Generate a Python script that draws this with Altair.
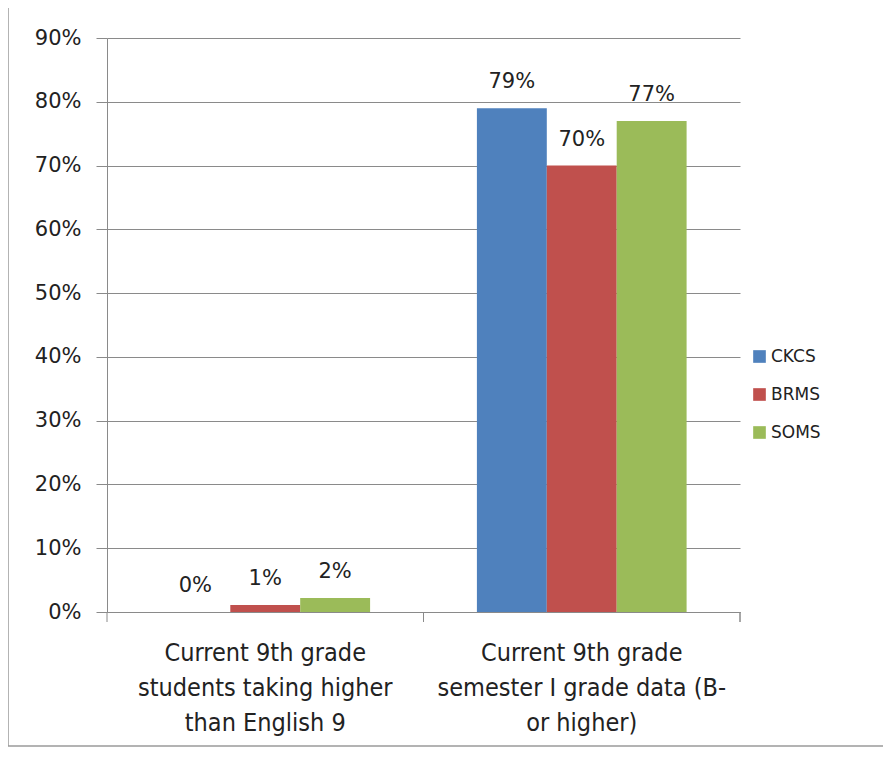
import altair as alt
import pandas as pd

# ---- data ----
categories = [
    "Current 9th grade|students taking higher|than English 9",
    "Current 9th grade|semester I grade data  (B-|or higher)",
]
schools = ["CKCS", "BRMS", "SOMS"]
values_students_higher = [0.0, 0.011, 0.022]
values_semester_grades = [0.79, 0.70, 0.77]
colors = ["#4F81BD", "#C0504D", "#9BBB59"]
y_ticks = [0.0, 0.1, 0.2, 0.3, 0.4, 0.5, 0.6, 0.7, 0.8, 0.9]

rows = []
for s, v in zip(schools, values_students_higher):
    rows.append({"category": categories[0], "school": s, "value": v})
for s, v in zip(schools, values_semester_grades):
    rows.append({"category": categories[1], "school": s, "value": v})
df = pd.DataFrame(rows)
cat_df = pd.DataFrame({"category": categories})

GRAY = "#8a8a8a"
TXT = "#222222"
AXFONT = "DejaVu Sans"
XFONT = "DejaVu Sans Condensed, Liberation Sans Narrow, sans-serif"

W, H = 633, 574

x_axis = alt.Axis(
    title=None,
    labelExpr="split(datum.label, '|')",
    labelAngle=0,
    ticks=False,
    domainColor=GRAY,
    labelFont=XFONT,
    labelFontSize=25,
    labelLineHeight=35,
    labelPadding=28,
    labelLimit=0,
    labelColor=TXT,
)
x_scale = alt.Scale(paddingInner=0, paddingOuter=0)

x_enc = alt.X("category:N", sort=categories, scale=x_scale, axis=x_axis)
xoff_enc = alt.XOffset(
    "school:N", sort=schools, scale=alt.Scale(paddingOuter=0.764, paddingInner=0)
)
y_enc = alt.Y(
    "value:Q",
    scale=alt.Scale(domain=[0, 0.9], nice=False),
    axis=alt.Axis(
        title=None,
        values=y_ticks,
        format=".0%",
        grid=True,
        gridColor=GRAY,
        tickColor=GRAY,
        tickSize=11,
        domainColor=GRAY,
        labelFont=AXFONT,
        labelFontSize=21,
        labelColor=TXT,
        labelPadding=15,
    ),
)

bars = alt.Chart(df).mark_bar().encode(
    x=x_enc,
    xOffset=xoff_enc,
    y=y_enc,
    color=alt.Color(
        "school:N",
        sort=schools,
        scale=alt.Scale(domain=schools, range=colors),
        legend=alt.Legend(
            title=None,
            orient="none",
            legendX=644,
            legendY=310,
            symbolType="square",
            symbolSize=160,
            symbolStrokeWidth=0,
            labelFont=AXFONT,
            labelFontSize=17,
            labelOffset=3,
            labelColor=TXT,
            rowPadding=20,
        ),
    ),
)

text = alt.Chart(df).mark_text(
    baseline="alphabetic", dy=-20, font=AXFONT, fontSize=21, color=TXT
).encode(
    x=x_enc,
    xOffset=xoff_enc,
    y=y_enc,
    text=alt.Text("value:Q", format=".0%"),
)

xticks = alt.Chart(cat_df).mark_rule(color=GRAY).encode(
    x=alt.X("category:N", sort=categories, scale=x_scale, axis=x_axis, bandPosition=0),
    y=alt.value(H),
    y2=alt.value(H + 10),
)
end_tick = alt.Chart(cat_df).mark_rule(color=GRAY).encode(
    x=alt.value(W), y=alt.value(H), y2=alt.value(H + 10)
)

frame = alt.Chart(pd.DataFrame({"a": [0]})).mark_rect(
    fillOpacity=0, stroke="#9a9a9a", strokeWidth=1.5
).encode(
    x=alt.value(-99), x2=alt.value(800), y=alt.value(-33), y2=alt.value(708)
)

chart = (
    alt.layer(frame, bars, text, xticks, end_tick)
    .properties(
        width=W,
        height=H,
        autosize=alt.AutoSizeParams(type="none"),
        padding={"left": 99, "top": 30, "right": 143, "bottom": 136},
        background="white",
    )
    .configure_view(stroke=None)
)

chart.save("out.html", embed_options={"renderer": "svg", "actions": False})
